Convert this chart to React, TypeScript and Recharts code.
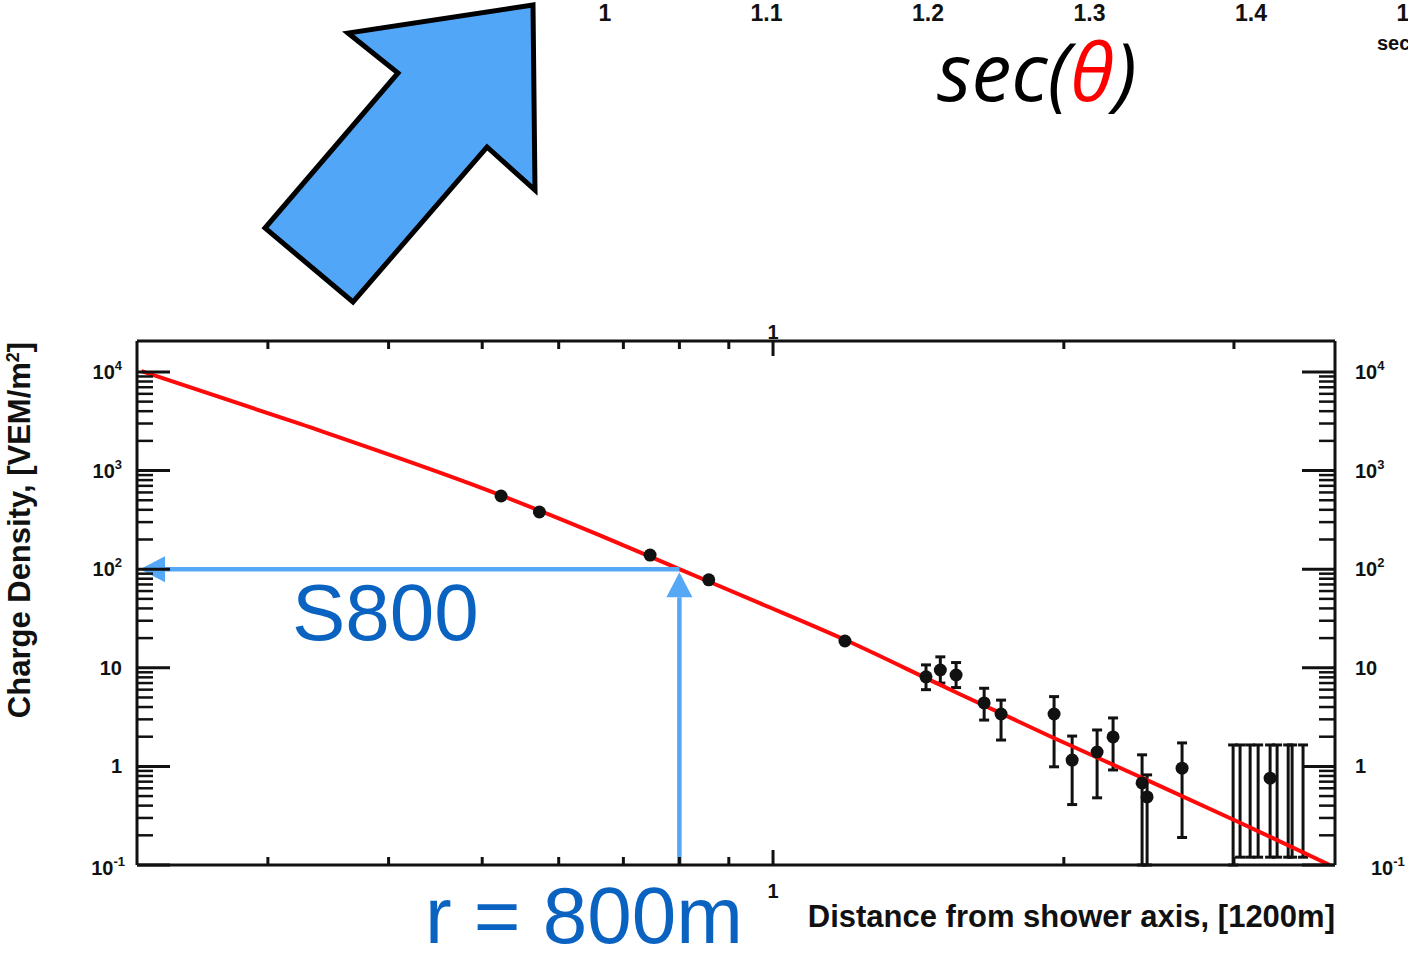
import {
  ComposedChart, LineChart, Line, Scatter, ErrorBar,
  XAxis, YAxis, ReferenceLine
} from "recharts";

// fitted lateral distribution, r in units of the axis title
const fitR = [0.222, 0.324, 0.523, 0.662, 0.8, 0.97, 1.19, 1.49, 1.94, 2.4, 3.04, 3.77];
const fitS = [10200, 2970, 560, 220, 100, 45, 19, 6.7, 2.0, 0.78, 0.27, 0.1];

// station signals [VEM/m2]
const stR = [0.523, 0.573, 0.746, 0.858, 1.187];
const stS = [552, 380, 139, 78, 18.7];

// stations with visible error bars: lower / upper ends
const errR = [1.44, 1.49, 1.547, 1.654, 1.722, 1.954, 2.04, 2.165, 2.249, 2.41, 2.439, 2.651];
const errS = [8.1, 9.5, 8.45, 4.4, 3.4, 3.4, 1.16, 1.4, 1.99, 0.68, 0.49, 0.96];
const errLo = [6.0, 7.0, 6.3, 2.95, 1.85, 0.99, 0.41, 0.48, 0.92, 0.1, 0.1, 0.19];
const errHi = [10.7, 12.9, 11.3, 6.2, 4.7, 5.1, 2.03, 2.34, 3.1, 1.31, 0.82, 1.73];

// far stations: wide ranges, only one with a point drawn
const farR = [2.994, 3.044, 3.118, 3.178, 3.27, 3.325, 3.414, 3.446, 3.537];
const farS = [0.45, 0.45, 0.45, 0.45, 0.76, 0.45, 0.45, 0.45, 0.45];
const farLo = [0.1, 0.12, 0.12, 0.12, 0.12, 0.12, 0.12, 0.12, 0.12];
const farHi = [1.65, 1.65, 1.65, 1.65, 1.65, 1.65, 1.65, 1.65, 1.65];
const farDot = [false, false, false, false, true, false, false, false, false];

// S800 reading
const refR = 0.8;
const refS = 100;

const xTicks = [0.3, 0.4, 0.5, 0.6, 0.7, 0.8, 0.9, 1, 2, 3];
const xMajor = [1];
const xMajorText = ["1"];

const yDecades = [0.1, 1, 10, 100, 1000, 10000];
const yDecadeBase = ["10", "1", "10", "10", "10", "10"];
const yDecadeExp = ["-1", "", "", "2", "3", "4"];
const yTicks = yDecades
  .flatMap(d => [1, 2, 3, 4, 5, 6, 7, 8, 9].map(m => +(m * d).toPrecision(3)))
  .filter(v => v <= 10000);

// cut-off sec(theta) axis above
const secTicks = [1, 1.1, 1.2, 1.3, 1.4, 1.5];
const secText = ["1", "1.1", "1.2", "1.3", "1.4", "1.5"];

const X_DOMAIN = [0.2196, 3.817];
const Y_DOMAIN = [0.1, 20600];
const SEC_DOMAIN = [0.6254, 1.4972];

const PLOT_L = 137;
const PLOT_R = 1335;
const PLOT_T = 341;
const PLOT_B = 865;

const INK = "#111";
const RED = "#ff0a0a";
const BLUE_LINE = "#55a8f6";
const BLUE_TEXT = "#0b63c1";
const ARROW_FILL = "#52a6f8";
const FONT = "'Liberation Sans', Arial, Helvetica, sans-serif";

const fitData = fitR.map((r, i) => ({ r, s: fitS[i] }));
const stData = stR.map((r, i) => ({ r, s: stS[i], dot: true }));
const errData = errR.map((r, i) => ({
  r, s: errS[i], err: [errS[i] - errLo[i], errHi[i] - errS[i]], dot: true
}));
const farData = farR.map((r, i) => ({
  r, s: farS[i], err: [farS[i] - farLo[i], farHi[i] - farS[i]], dot: farDot[i]
}));
const secData = secTicks.map(v => ({ v }));

const isClose = (a: number, b: number) => Math.abs(a - b) / b < 1e-6;

const yTick = (side: "l" | "r") => (props: any) => {
  const { y, payload } = props;
  const i = yDecades.findIndex(d => isClose(payload.value, d));
  const major = i >= 0;
  const len = major ? 33 : 16;
  const x0 = side === "l" ? PLOT_L : PLOT_R;
  const x1 = side === "l" ? x0 + len : x0 - len;
  const negative = major && yDecadeExp[i].startsWith("-");
  let tx = side === "l" ? PLOT_L - 15 : PLOT_R + 20;
  if (negative) tx += side === "l" ? 3 : 16;
  return (
    <g>
      <line x1={x0} x2={x1} y1={y} y2={y} stroke={INK} strokeWidth={major ? 3 : 2.5} />
      {major && (
        <text
          x={tx}
          y={y + (negative ? 10 : 7)}
          textAnchor={side === "l" ? "end" : "start"}
          fontFamily={FONT}
          fontWeight="bold"
          fontSize={20}
          fill={INK}
        >
          {yDecadeBase[i]}
          {yDecadeExp[i] && <tspan dy={-9} fontSize={13}>{yDecadeExp[i]}</tspan>}
        </text>
      )}
    </g>
  );
};

const xTick = (side: "b" | "t") => (props: any) => {
  const { x, payload } = props;
  const i = xMajor.findIndex(m => isClose(payload.value, m));
  const major = i >= 0;
  const len = major ? 15 : 8;
  const y0 = side === "b" ? PLOT_B : PLOT_T;
  const y1 = side === "b" ? y0 - len : y0 + len;
  return (
    <g>
      <line x1={x} x2={x} y1={y0} y2={y1} stroke={INK} strokeWidth={3} />
      {major && (
        <text
          x={x}
          y={side === "b" ? PLOT_B + 33 : PLOT_T - 2}
          textAnchor="middle"
          fontFamily={FONT}
          fontWeight="bold"
          fontSize={20}
          fill={INK}
        >
          {xMajorText[i]}
        </text>
      )}
    </g>
  );
};

const secTick = (props: any) => {
  const { x, payload } = props;
  const i = secTicks.findIndex(m => isClose(payload.value, m));
  return (
    <text x={x} y={21} textAnchor="middle" fontFamily={FONT} fontWeight="bold" fontSize={23} fill={INK}>
      {secText[i]}
    </text>
  );
};

const stationDot = (props: any) => {
  const { cx, cy, payload } = props;
  if (!payload || !payload.dot) return <g />;
  return <circle cx={cx} cy={cy} r={6.5} fill={INK} />;
};

// blue annotation: line with a filled arrowhead at (x2, y2)
const arrowShape = (props: any) => {
  const { x1, y1, x2, y2 } = props;
  const dx = x2 - x1;
  const dy = y2 - y1;
  const len = Math.hypot(dx, dy) || 1;
  const ux = dx / len;
  const uy = dy / len;
  const tipX = x2 - ux * 3;
  const tipY = y2 - uy * 3;
  const head = 25;
  const half = 13;
  const bx = tipX - ux * head;
  const by = tipY - uy * head;
  return (
    <g>
      <line x1={x1} y1={y1} x2={bx} y2={by} stroke={BLUE_LINE} strokeWidth={4.5} />
      <polygon
        points={`${tipX},${tipY} ${bx - uy * half},${by + ux * half} ${bx + uy * half},${by - ux * half}`}
        fill={BLUE_LINE}
      />
    </g>
  );
};

export default function App() {
  return (
    <div style={{ position: "absolute", left: 0, top: 0, width: 1408, height: 954, background: "#fff", overflow: "hidden" }}>
      <div style={{ position: "absolute", left: 0, top: 0 }}>
        <LineChart width={1408} height={40} data={secData} margin={{ top: 0, right: 0, bottom: 0, left: 0 }}>
          <XAxis
            dataKey="v"
            type="number"
            domain={SEC_DOMAIN}
            allowDataOverflow
            ticks={secTicks}
            interval={0}
            height={1}
            axisLine={false}
            tickLine={false}
            tick={secTick}
          />
          <YAxis hide />
        </LineChart>
      </div>

      <div style={{ position: "absolute", left: 0, top: 0 }}>
        <ComposedChart
          width={1408}
          height={954}
          margin={{ top: PLOT_T - 1, right: 1408 - PLOT_R - 1, bottom: 954 - PLOT_B - 1, left: PLOT_L - 1 }}
        >
          <XAxis
            xAxisId="b"
            dataKey="r"
            type="number"
            scale="log"
            domain={X_DOMAIN}
            allowDataOverflow
            ticks={xTicks}
            interval={0}
            height={1}
            tickSize={0}
            tickLine={false}
            axisLine={{ stroke: INK, strokeWidth: 3 }}
            tick={xTick("b")}
          />
          <XAxis
            xAxisId="t"
            orientation="top"
            dataKey="r"
            type="number"
            scale="log"
            domain={X_DOMAIN}
            allowDataOverflow
            ticks={xTicks}
            interval={0}
            height={1}
            tickSize={0}
            tickLine={false}
            axisLine={{ stroke: INK, strokeWidth: 3 }}
            tick={xTick("t")}
          />
          <YAxis
            yAxisId="l"
            type="number"
            scale="log"
            domain={Y_DOMAIN}
            allowDataOverflow
            ticks={yTicks}
            interval={0}
            width={1}
            tickSize={0}
            tickLine={false}
            axisLine={{ stroke: INK, strokeWidth: 3 }}
            tick={yTick("l")}
          />
          <YAxis
            yAxisId="r"
            orientation="right"
            type="number"
            scale="log"
            domain={Y_DOMAIN}
            allowDataOverflow
            ticks={yTicks}
            interval={0}
            width={1}
            tickSize={0}
            tickLine={false}
            axisLine={{ stroke: INK, strokeWidth: 3 }}
            tick={yTick("r")}
          />

          <Scatter xAxisId="b" yAxisId="l" data={stData} dataKey="s" shape={stationDot} isAnimationActive={false} />
          <Scatter xAxisId="b" yAxisId="l" data={errData} dataKey="s" shape={stationDot} isAnimationActive={false}>
            <ErrorBar dataKey="err" direction="y" width={5} stroke={INK} strokeWidth={3} isAnimationActive={false} />
          </Scatter>
          <Scatter xAxisId="b" yAxisId="l" data={farData} dataKey="s" shape={stationDot} isAnimationActive={false}>
            <ErrorBar dataKey="err" direction="y" width={5} stroke={INK} strokeWidth={3} isAnimationActive={false} />
          </Scatter>

          <Line
            xAxisId="b"
            yAxisId="l"
            data={fitData}
            dataKey="s"
            type="monotone"
            stroke={RED}
            strokeWidth={4}
            dot={false}
            isAnimationActive={false}
          />

          <ReferenceLine
            xAxisId="b"
            yAxisId="l"
            segment={[{ x: refR, y: refS }, { x: X_DOMAIN[0], y: refS }]}
            ifOverflow="visible"
            shape={arrowShape}
          />
          <ReferenceLine
            xAxisId="b"
            yAxisId="l"
            segment={[{ x: refR, y: Y_DOMAIN[0] }, { x: refR, y: refS }]}
            ifOverflow="visible"
            shape={arrowShape}
          />
        </ComposedChart>
      </div>

      <svg width={1408} height={954} style={{ position: "absolute", left: 0, top: 0, pointerEvents: "none" }}>
        <polygon
          points="533,5 348,33 398,73 265,228 353,302 487,147 535,190"
          fill={ARROW_FILL}
          stroke="#000"
          strokeWidth={5}
          strokeLinejoin="miter"
        />
        <text x={937} y={101} fontFamily="'Open Sans', sans-serif" fontStyle="italic" fontSize={80} fill="#000">
          sec(<tspan fill="#ff0000">θ</tspan>)
        </text>
        <text x={1377} y={50} fontFamily={FONT} fontWeight="bold" fontSize={20} fill={INK}>
          sec(θ)
        </text>

        <text x={292} y={640} fontFamily={FONT} fontSize={80} fill={BLUE_TEXT}>S800</text>
        <text x={425} y={943} fontFamily={FONT} fontSize={80} fill={BLUE_TEXT}>r = 800m</text>

        <text
          transform="translate(30, 530) rotate(-90)"
          textAnchor="middle"
          fontFamily={FONT}
          fontWeight="bold"
          fontSize={31}
          fill={INK}
        >
          Charge Density, [VEM/m<tspan dy={-11} fontSize={18}>2</tspan><tspan dy={11}>]</tspan>
        </text>
        <text x={1335} y={927} textAnchor="end" fontFamily={FONT} fontWeight="bold" fontSize={31} fill={INK}>
          Distance from shower axis, [1200m]
        </text>
      </svg>
    </div>
  );
}
